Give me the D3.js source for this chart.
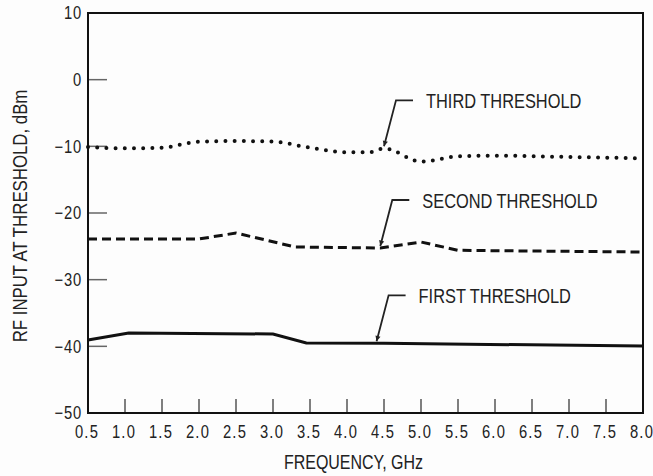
<!DOCTYPE html>
<html lang="en">
<head>
<meta charset="utf-8">
<title>RF input at threshold vs frequency</title>
<script src="https://cdn.jsdelivr.net/npm/d3@7"></script>
<style>
  body { margin: 0; background: #fdfdfd; }
  svg { display: block; }
  text { font-family: "Liberation Sans", Arial, sans-serif; fill: #222; }
</style>
</head>
<body>
<script>
// Width and height
var w = 653;
var h = 476;

// data
var firstFreq  = [0.5, 1.05, 3.0, 3.45, 4.5, 8.0];
var firstLevel = [-39.05, -38.0, -38.15, -39.5, -39.55, -39.95];

var secondFreq  = [0.5, 2.0, 2.5, 3.3, 4.45, 5.0, 5.5, 8.0];
var secondLevel = [-23.9, -23.9, -23.0, -25.1, -25.25, -24.35, -25.6, -25.85];

var thirdFreq  = [0.5, 1.0, 1.5, 2.0, 2.5, 3.0, 3.5, 4.0, 4.3, 4.5, 5.0, 5.5, 6.0, 7.0, 8.0];
var thirdLevel = [-10.1, -10.3, -10.2, -9.3, -9.2, -9.3, -10.2, -10.9, -10.9, -10.3, -12.3, -11.5, -11.4, -11.6, -11.8];

var labelNames = ["FIRST THRESHOLD", "SECOND THRESHOLD", "THIRD THRESHOLD"];
var labelFreq  = [4.4, 4.45, 4.5];

var xTicks = [0.5, 1.0, 1.5, 2.0, 2.5, 3.0, 3.5, 4.0, 4.5, 5.0, 5.5, 6.0, 6.5, 7.0, 7.5, 8.0];
var yTicks = [10, 0, -10, -20, -30, -40, -50];

var xScale = d3.scaleLinear().domain([0.5, 8.0]).range([88, 643]);
var yScale = d3.scaleLinear().domain([-50, 10]).range([413, 13]);

// horizontal squeeze to fake a condensed face
var sx = 0.82;

var svg = d3.select("body").append("svg")
  .attr("width", w)
  .attr("height", h);

// ticks (inside the frame)
svg.selectAll("line.ytick")
  .data(yTicks.slice(1, -1))
  .enter().append("line")
  .attr("class", "ytick")
  .attr("x1", xScale(0.5)).attr("x2", xScale(0.5) + 19)
  .attr("y1", function(d) { return yScale(d); })
  .attr("y2", function(d) { return yScale(d); })
  .attr("stroke", "#666").attr("stroke-width", 1.5);

svg.selectAll("line.xtick")
  .data(xTicks.slice(1, -1))
  .enter().append("line")
  .attr("class", "xtick")
  .attr("x1", function(d) { return xScale(d); })
  .attr("x2", function(d) { return xScale(d); })
  .attr("y1", yScale(-50)).attr("y2", yScale(-50) - 14)
  .attr("stroke", "#555").attr("stroke-width", 1.5);

// frame
svg.append("rect")
  .attr("x", xScale(0.5)).attr("y", yScale(10))
  .attr("width", xScale(8) - xScale(0.5))
  .attr("height", yScale(-50) - yScale(10))
  .attr("fill", "none").attr("stroke", "#111").attr("stroke-width", 2);

// tick labels
svg.selectAll("text.ylab")
  .data(yTicks)
  .enter().append("text")
  .attr("class", "ylab")
  .attr("transform", "scale(" + sx + ",1)")
  .attr("x", (xScale(0.5) - 6) / sx)
  .attr("y", function(d) { return yScale(d); })
  .attr("dy", "0.36em")
  .attr("text-anchor", "end")
  .attr("font-size", "18px")
  .attr("letter-spacing", "1px")
  .text(function(d) { return d < 0 ? "\u2212" + Math.abs(d) : d; });

svg.selectAll("text.xlab")
  .data(xTicks)
  .enter().append("text")
  .attr("class", "xlab")
  .attr("transform", "scale(" + sx + ",1)")
  .attr("x", function(d) { return (xScale(d) - 1) / sx; })
  .attr("y", yScale(-50) + 25)
  .attr("text-anchor", "middle")
  .attr("font-size", "18px")
  .attr("letter-spacing", "1.5px")
  .text(function(d) { return d.toFixed(1); });

// axis titles
svg.append("text")
  .attr("transform", "scale(" + sx + ",1)")
  .attr("x", ((xScale(0.5) + xScale(8)) / 2 - 12) / sx)
  .attr("y", 469)
  .attr("text-anchor", "middle")
  .attr("font-size", "19.5px")
  .text("FREQUENCY, GHz");

svg.append("text")
  .attr("transform", "translate(27," + 216 + ") rotate(-90) scale(" + sx + ",1)")
  .attr("text-anchor", "middle")
  .attr("font-size", "20.5px")
  .text("RF INPUT AT THRESHOLD, dBm");

// lines
var line = d3.line()
  .x(function(d) { return xScale(d[0]); })
  .y(function(d) { return yScale(d[1]); });

var smooth = d3.line()
  .curve(d3.curveMonotoneX)
  .x(function(d) { return xScale(d[0]); })
  .y(function(d) { return yScale(d[1]); });

var first = d3.zip(firstFreq, firstLevel);
var second = d3.zip(secondFreq, secondLevel);
var third = d3.zip(thirdFreq, thirdLevel);

svg.append("path")
  .attr("d", line(first))
  .attr("fill", "none").attr("stroke", "#111").attr("stroke-width", 3);

svg.append("path")
  .attr("d", line(second))
  .attr("fill", "none").attr("stroke", "#111").attr("stroke-width", 3)
  .attr("stroke-dasharray", "9,5");

svg.append("path")
  .attr("d", smooth(third))
  .attr("fill", "none").attr("stroke", "#111").attr("stroke-width", 4)
  .attr("stroke-linecap", "round")
  .attr("stroke-dasharray", "0,9.2");

// callouts
var series = [first, second, third];
var interp = function(pts, f) {
  for (var i = 1; i < pts.length; i++) {
    if (f <= pts[i][0]) {
      var t = (f - pts[i-1][0]) / (pts[i][0] - pts[i-1][0]);
      return pts[i-1][1] + t * (pts[i][1] - pts[i-1][1]);
    }
  }
  return pts[pts.length - 1][1];
};

labelNames.forEach(function(name, i) {
  var tx = xScale(labelFreq[i]);
  var ty = yScale(interp(series[i], labelFreq[i])) - 2;
  var cx = tx + 12, cy = ty - 46;
  svg.append("path")
    .attr("d", "M" + (cx + 17) + "," + cy + "L" + cx + "," + cy + "L" + tx + "," + ty)
    .attr("fill", "none").attr("stroke", "#222").attr("stroke-width", 1.8);
  // small arrow tip
  var ang = Math.atan2(ty - cy, tx - cx);
  var a1 = ang + Math.PI - 0.45, a2 = ang + Math.PI + 0.45;
  svg.append("path")
    .attr("d", "M" + tx + "," + ty +
      "L" + (tx + 6 * Math.cos(a1)) + "," + (ty + 6 * Math.sin(a1)) +
      "L" + (tx + 6 * Math.cos(a2)) + "," + (ty + 6 * Math.sin(a2)) + "Z")
    .attr("fill", "#222");
  svg.append("text")
    .attr("transform", "scale(" + sx + ",1)")
    .attr("x", (cx + 30) / sx)
    .attr("y", cy + 8)
    .attr("font-size", "20px")
    .text(name);
});
</script>
</body>
</html>
